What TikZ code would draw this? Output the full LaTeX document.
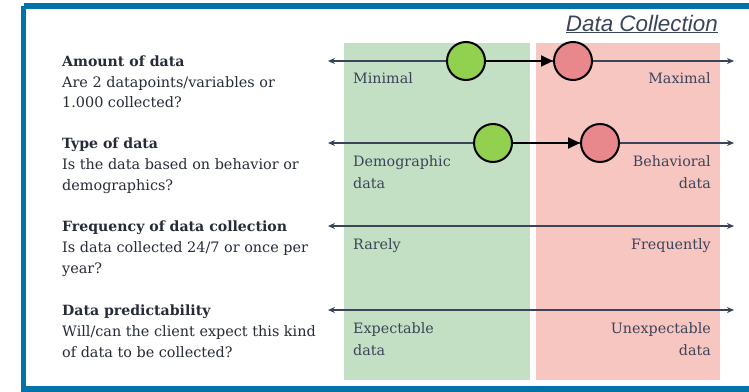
\documentclass[tikz,border=0pt]{standalone}
\usepackage{fontspec}
\setmainfont{DejaVu Serif}
\setsansfont{Liberation Sans}
\usetikzlibrary{arrows.meta}
\definecolor{frameblue}{HTML}{0073AA}
\definecolor{zonegreen}{HTML}{C3E0C5}
\definecolor{zonered}{HTML}{F8C6C1}
\definecolor{dotgreen}{HTML}{92D050}
\definecolor{dotred}{HTML}{E8888D}
\definecolor{ink}{HTML}{262B38}
\definecolor{axisink}{HTML}{3A4458}
\tikzset{
  zone/.style={draw=none,minimum width=#1,anchor=north west,inner sep=0pt,minimum height=337pt},
  axisline/.style={draw=axisink,line width=1.4pt,{Stealth[length=7pt,width=6pt]}-{Stealth[length=7pt,width=6pt]}},
  qhead/.style={anchor=base west,font=\fontsize{14.1}{16}\selectfont\bfseries,text=ink,inner sep=0pt},
  qtext/.style={anchor=base west,font=\fontsize{14.4}{16}\selectfont,text=ink,inner sep=0pt},
  lbl/.style={font=\fontsize{14.3}{16}\selectfont,text=axisink,inner sep=0pt},
  lbll/.style={lbl,anchor=base west},
  lblr/.style={lbl,anchor=base east},
  dot/.style={circle,draw=black,line width=2pt,minimum size=38pt,inner sep=0pt},
  move/.style={draw=black,line width=2pt,-{Triangle[length=12pt,width=11pt]}}
}
\begin{document}
\begin{tikzpicture}[x=1pt,y=-1pt]
\useasboundingbox (0,0) rectangle (749,391);
\fill[white] (0,0) rectangle (749,391);
% frame
\draw[frameblue,line width=5.5pt] (23.5,6) -- (760,6) (23.5,6) -- (23.5,389) -- (760,389);
% zones
\node[zone=186pt,fill=zonegreen] (gz) at (344,43) {};
\node[zone=184pt,fill=zonered] (rz) at (536,43) {};
% title
\node[anchor=base east,font=\sffamily\itshape\fontsize{22.4}{26}\selectfont,text=axisink,inner sep=0pt] (title) at (718,31) {\underline{Data Collection}};
% axis endpoints
\coordinate (l1) at (328,61); \coordinate (r1) at (734,61);
\coordinate (l2) at (328,143); \coordinate (r2) at (734,143);
\coordinate (l3) at (328,226); \coordinate (r3) at (734,226);
\coordinate (l4) at (328,310); \coordinate (r4) at (734,310);
\draw[axisline] (l1) -- (r1);
\draw[axisline] (l2) -- (r2);
\draw[axisline] (l3) -- (r3);
\draw[axisline] (l4) -- (r4);
% left texts
\node[qhead] (h1) at (62,66) {Amount of data};
\node[qtext] (t1a) at (62,87) {Are 2 datapoints/variables or};
\node[qtext] (t1b) at (62,107) {1.000 collected?};
\node[qhead] (h2) at (62,148) {Type of data};
\node[qtext] (t2a) at (62,169) {Is the data based on behavior or};
\node[qtext] (t2b) at (62,190) {demographics?};
\node[qhead] (h3) at (62,231) {Frequency of data collection};
\node[qtext] (t3a) at (62,252) {Is data collected 24/7 or once per};
\node[qtext] (t3b) at (62,273) {year?};
\node[qhead] (h4) at (62,315) {Data predictability};
\node[qtext] (t4a) at (62,336) {Will/can the client expect this kind};
\node[qtext] (t4b) at (62,357) {of data to be collected?};
% axis labels
\node[lbll] (a1) at (353,83) {Minimal};
\node[lblr] (b1) at (711,83) {Maximal};
\node[lbll] (a2) at (353,166) {Demographic};
\node[lbll] (a2b) at (353,188) {data};
\node[lblr] (b2) at (711,166) {Behavioral};
\node[lblr] (b2b) at (711,188) {data};
\node[lbll] (a3) at (353,249) {Rarely};
\node[lblr] (b3) at (711,249) {Frequently};
\node[lbll] (a4) at (353,333) {Expectable};
\node[lbll] (a4b) at (353,355) {data};
\node[lblr] (b4) at (711,333) {Unexpectable};
\node[lblr] (b4b) at (711,355) {data};
% dots
\node[dot,fill=dotgreen] (g1) at (466,61) {};
\node[dot,fill=dotred] (p1) at (573,61) {};
\node[dot,fill=dotgreen] (g2) at (493,143) {};
\node[dot,fill=dotred] (p2) at (600,143) {};
\draw[move] (g1) -- (p1);
\draw[move] (g2) -- (p2);
\end{tikzpicture}
\end{document}
